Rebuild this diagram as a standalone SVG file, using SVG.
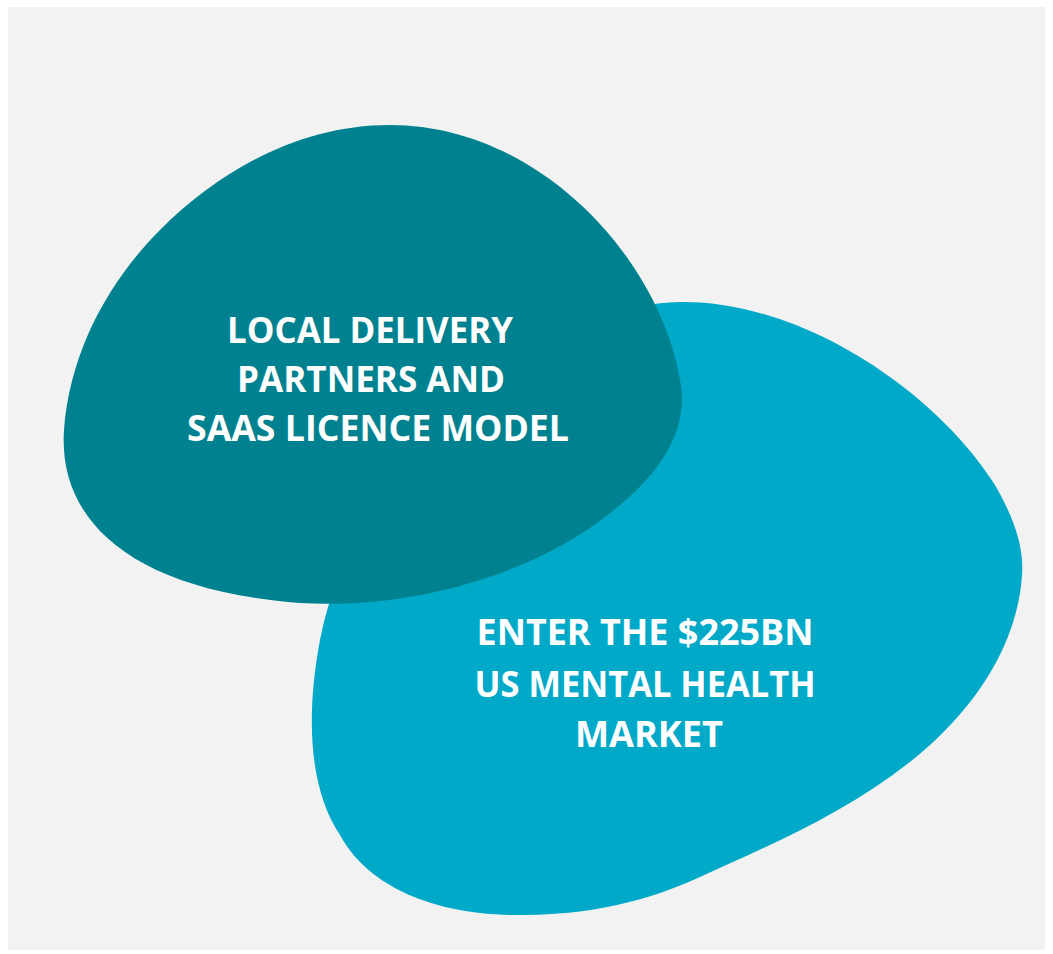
<svg xmlns="http://www.w3.org/2000/svg" width="1053" height="954" viewBox="0 0 1053 954">
  <style>
    .label { font-family: "Open Sans", "Liberation Sans", sans-serif; font-weight: 700; font-size: 35px; fill: #ffffff; text-anchor: middle; }
  </style>
  <rect x="0" y="0" width="1053" height="954" fill="#ffffff"/>
  <rect x="8" y="7" width="1037" height="943" fill="#f2f2f2"/>

  <g id="market">
    <path d="M 680 302 C 800 300 935 390 995 485 C 1015 520 1024 548 1022 575 C 1018 640 980 700 930 745 C 860 808 770 845 700 877 C 630 909 570 915 517 915 C 440 915 370 890 340 835 C 310 790 305 720 320 640 C 350 480 520 305 680 302 Z" fill="#00a9c8"/>
    <text class="label" x="645" y="645" textLength="337" lengthAdjust="spacingAndGlyphs">ENTER THE $225BN</text>
    <text class="label" x="645" y="697" textLength="341" lengthAdjust="spacingAndGlyphs">US MENTAL HEALTH</text>
    <text class="label" x="649" y="747" textLength="148" lengthAdjust="spacingAndGlyphs">MARKET</text>
  </g>

  <g id="delivery">
    <path d="M 390 125 C 300 125 220 170 160 230 C 110 280 70 350 64 430 C 58 520 130 590 300 603 C 420 610 540 570 610 513 C 660 475 690 430 680 380 C 660 260 540 125 390 125 Z" fill="#00818f"/>
    <text class="label" x="370" y="343" textLength="286" lengthAdjust="spacingAndGlyphs">LOCAL DELIVERY</text>
    <text class="label" x="371" y="392" textLength="268" lengthAdjust="spacingAndGlyphs">PARTNERS AND</text>
    <text class="label" x="378" y="441" textLength="382" lengthAdjust="spacingAndGlyphs">SAAS LICENCE MODEL</text>
  </g>

  <g id="connectors"/>
</svg>
